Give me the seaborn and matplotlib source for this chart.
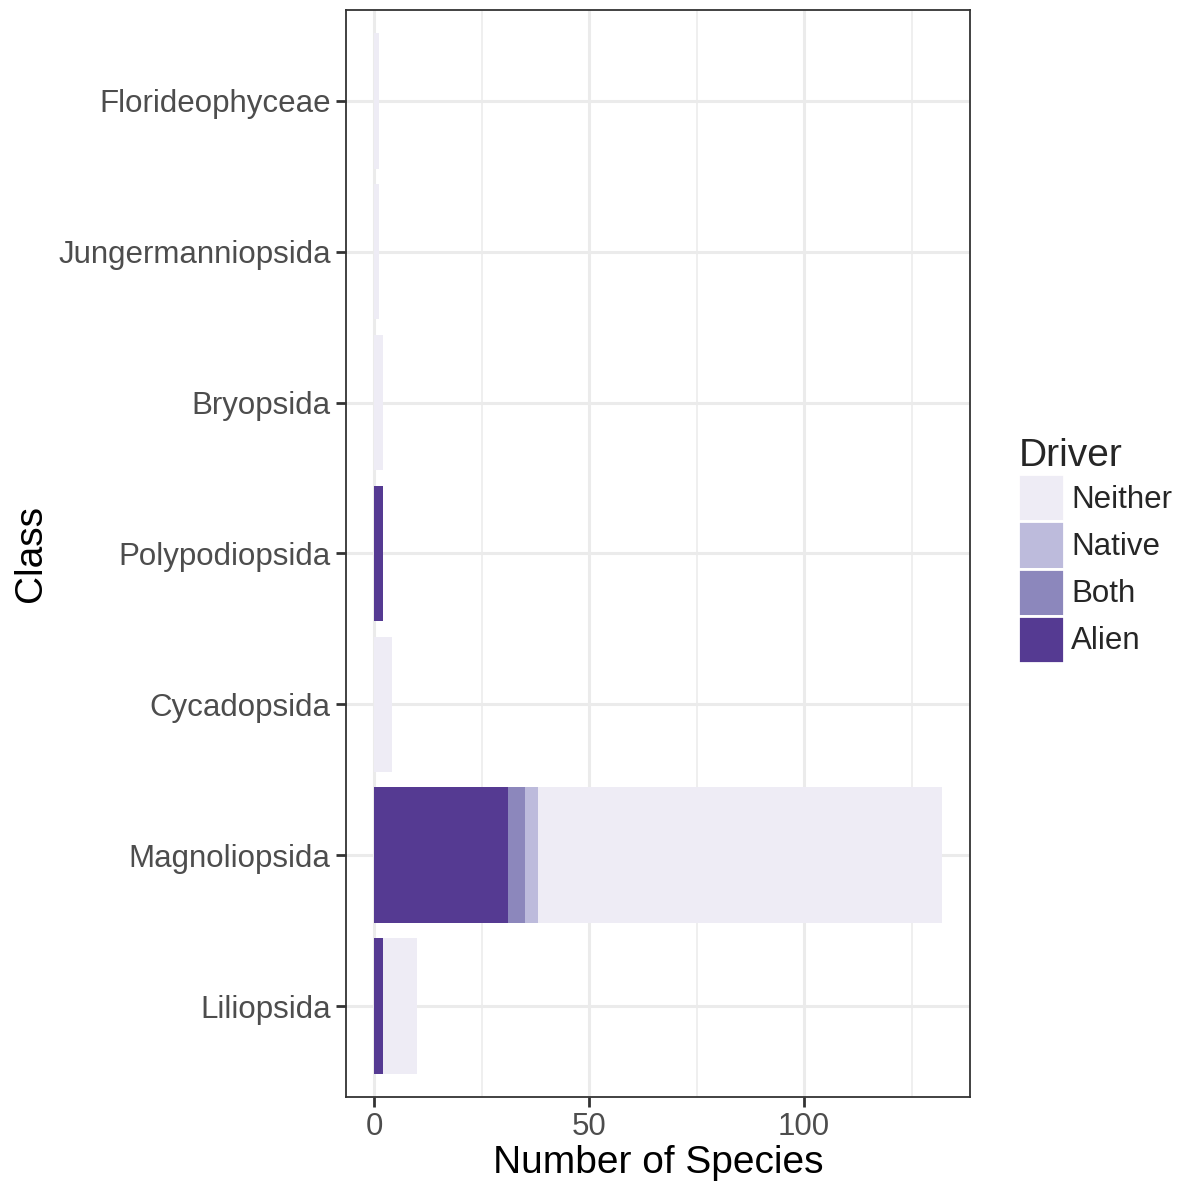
import numpy as np
import pandas as pd
import seaborn as sns
import matplotlib.pyplot as plt
from matplotlib.patches import Patch
from matplotlib.ticker import MultipleLocator

# data (number of species per class and driver)
classes = ["Florideophyceae", "Jungermanniopsida", "Bryopsida", "Polypodiopsida",
           "Cycadopsida", "Magnoliopsida", "Liliopsida"]
alien = [0, 0, 0, 2, 0, 31, 2]
both = [0, 0, 0, 0, 0, 4, 0]
native = [0, 0, 0, 0, 0, 3, 0]
neither = [1, 1, 2, 0, 4, 94, 8]

drivers = ["Neither", "Native", "Both", "Alien"]
colors = {"Neither": "#eeecf5", "Native": "#bdbbdc", "Both": "#8c87bc", "Alien": "#553a92"}

sns.set_style("white")
plt.rcParams['font.family'] = ['Liberation Sans', 'DejaVu Sans']

df = pd.DataFrame({"Class": classes, "Alien": alien, "Both": both,
                   "Native": native, "Neither": neither})
# cumulative totals, stacked from the left: Alien, Both, Native, Neither
df["c_Alien"] = df["Alien"]
df["c_Both"] = df["c_Alien"] + df["Both"]
df["c_Native"] = df["c_Both"] + df["Native"]
df["c_Neither"] = df["c_Native"] + df["Neither"]

fig = plt.figure(figsize=(11.84, 11.89), dpi=100)
ax = fig.add_axes([0.2922, 0.0774, 0.8193 - 0.2922, 0.9916 - 0.0774])

for d in drivers:  # widest first so the narrower ones sit on top
    sns.barplot(data=df, y="Class", x="c_" + d, order=classes, orient="h",
                color=colors[d], saturation=1, width=0.9, linewidth=0,
                ax=ax, zorder=3)

ax.set_xlim(-6.6, 138.6)
ax.set_ylim(len(classes) - 0.4, -0.6)
ax.xaxis.set_major_locator(MultipleLocator(50))
ax.xaxis.set_minor_locator(MultipleLocator(25))
ax.grid(True, which="major", color="#ebebeb", lw=2.2, zorder=0)
ax.grid(True, which="minor", axis="x", color="#ebebeb", lw=1.1, zorder=0)
ax.set_axisbelow(True)

for s in ax.spines.values():
    s.set_color("#333333")
    s.set_linewidth(1.3)

ax.tick_params(axis="both", which="major", length=7, width=2, color="#333333",
               labelsize=22.5, labelcolor="#4d4d4d", pad=4, direction="out",
               bottom=True, left=True)
ax.tick_params(axis="x", which="minor", length=0)

ax.set_xlabel("Number of Species", fontsize=28, color="black", labelpad=2)
ax.set_ylabel("Class", fontsize=28, color="black", labelpad=6.5)

handles = [Patch(facecolor=colors[d], edgecolor="white", linewidth=2, label=d) for d in drivers]
leg = fig.legend(handles=handles, title="Driver", loc="center left",
                 bbox_to_anchor=(0.8495, 0.537), frameon=False, fontsize=22.5,
                 title_fontsize=28, handlelength=1.45, handleheight=1.95,
                 handletextpad=0.25, labelspacing=0.0, borderaxespad=0)
leg._legend_box.align = "left"

fig.savefig("out.png", dpi=100)
